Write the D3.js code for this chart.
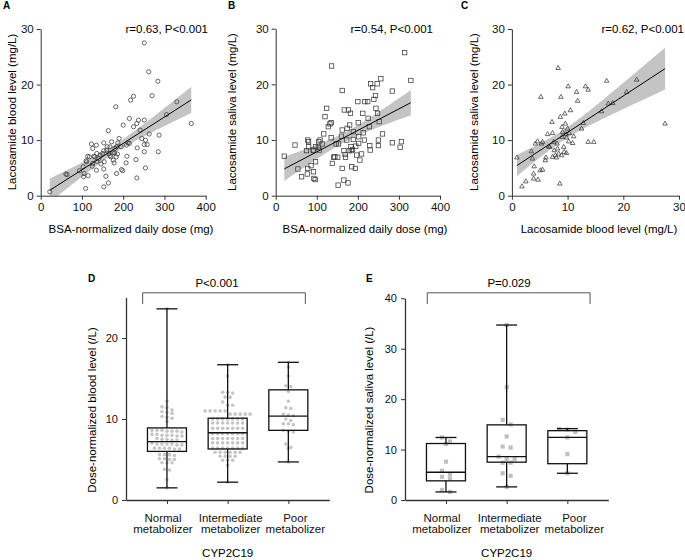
<!DOCTYPE html>
<html>
<head>
<meta charset="utf-8">
<script src="https://cdn.jsdelivr.net/npm/d3@7"></script>
<style>
  body { margin: 0; background: #fff; }
  svg { font-family: Arial, "Liberation Sans", sans-serif; }
  .axis path, .axis line { stroke: #333; }
  .axis text { fill: #111; }
</style>
</head>
<body>
<div id="chart"></div>
<script>
// ---------- data ----------
// A: BSA-normalized dose (mg) vs blood level (mg/L)
var aDose  = [22,61,64,94,103,105,104,115,109,111,114,123,126,129,126,125,135,136,136,135,141,144,146,150,153,153,154,153,153,158,164,161,164,168,168,172,175,176,178,182,180,184,187,186,183,184,195,196,199,200,207,209,212,215,218,225,225,233,237,234,233,231,241,245,251,251,254,251,258,251,254,262,263,270,284,285,287,305,330,365,110,118,131,160,165,170,179,190,208,215];
var aBlood = [0.7,3.9,3.8,4.5,5.2,4.0,3.4,3.6,1.3,6.1,7.1,9.3,8.5,7.1,5.8,5.3,9.1,7.6,6.2,4.6,6.7,7.3,5.7,7.6,9.5,8.1,6.1,4.8,1.6,3.5,2.3,8.8,11.7,7.2,8.8,9.7,7.7,6.4,5.9,16.0,8.5,8.8,9.5,7.5,7.0,4.0,8.8,4.7,4.5,12.7,5.9,7.1,9.5,13.9,17.2,17.9,12.4,13.0,13.6,8.6,3.2,6.5,11.8,10.3,27.5,13.6,10.0,9.2,9.2,7.9,5.0,22.3,11.1,18.0,20.6,7.9,10.9,14.6,16.9,13.0,6.3,7.0,7.0,8.2,7.6,7.0,7.7,10.3,9.1,9.4];

// B: BSA-normalized dose (mg) vs saliva level (mg/L)
var bDose   = [21,47,54,63,75,78,80,80,77,78,93,92,86,91,97,97,96,92,104,105,106,108,113,117,120,124,128,132,135,136,135,138,141,144,147,151,152,153,160,162,162,162,166,166,167,169,170,173,174,176,177,179,180,182,183,184,185,187,189,189,194,195,197,200,201,202,202,205,209,212,213,216,217,224,225,228,229,230,231,236,239,243,244,247,248,250,250,252,256,260,284,284,303,306,314,329];
var bSaliva = [7.1,9.1,4.8,3.4,8.1,10.0,9.7,8.8,3.9,4.9,3.1,4.3,5.4,8.2,8.8,6.1,2.9,8.1,8.7,9.7,8.2,10.0,9.3,11.1,14.2,15.7,12.4,12.9,13.1,23.3,10.4,5.8,6.9,7.0,9.3,6.9,1.9,9.3,10.7,11.8,4.9,18.9,8.1,2.8,15.4,7.4,6.9,10.0,12.1,2.3,15.4,8.1,12.7,14.8,8.8,8.1,5.2,8.3,10.1,11.5,4.9,8.9,7.3,16.9,13.1,10.6,9.4,6.4,7.5,14.8,11.3,10.0,16.9,16.9,13.9,12.4,9.0,8.2,20.1,19.4,17.3,18.0,15.7,20.1,14.8,10.0,9.0,13.3,21.0,11.1,18.8,9.5,8.7,9.7,25.7,20.7];

// C: blood level vs saliva level (mg/L)
var cBlood  = [0.9,1.8,2.5,3.5,3.7,3.9,4.0,3.9,4.2,4.6,4.7,5.1,5.2,5.5,5.3,5.5,6.0,6.1,6.4,6.6,6.8,7.2,7.3,7.5,7.3,7.6,7.8,8.0,8.1,8.2,8.3,8.4,8.6,8.7,8.8,8.9,9.0,9.0,9.1,9.3,9.4,9.5,9.6,9.7,9.8,9.8,10.0,10.1,10.2,10.3,10.5,10.9,11.1,11.6,11.8,12.5,12.8,13.2,13.7,13.7,14.7,16.1,17.0,17.3,18.1,20.6,22.4,27.5];
var cSaliva = [6.9,1.7,2.6,8.0,6.7,4.0,5.3,3.1,9.4,9.8,2.9,4.6,17.8,4.7,9.4,9.7,6.4,6.9,11.1,8.9,8.8,13.3,11.3,9.7,7.0,8.2,7.3,6.9,9.4,8.5,23.0,7.6,2.2,14.2,17.8,7.3,12.4,10.6,11.5,8.8,7.9,14.8,13.0,11.1,7.7,10.5,12.1,19.7,9.8,11.3,15.4,9.5,10.7,18.7,17.1,12.1,13.1,19.7,19.1,9.7,9.7,15.2,20.7,16.6,16.7,18.7,20.9,13.0];

var statsText = ["r=0.63, P<0.001", "r=0.54, P<0.001", "r=0.62, P<0.001"];
var tCrit = 1.99;

// D / E: CYP2C19 groups
var groups = ["Normal metabolizer", "Intermediate metabolizer", "Poor metabolizer"];

var dNormal = [23.6,12.2,11.5,11.4,11.1,10.9,10.8,10.7,10.3,10.2,10.1,9.7,8.6,8.6,8.5,8.5,8.4,8.5,8.6,8.1,8.0,8.0,7.9,8.0,8.1,7.9,7.6,7.4,7.5,7.5,7.4,6.9,6.9,7.0,6.8,6.9,6.9,6.8,6.4,6.4,6.3,6.4,6.4,6.3,5.6,5.5,5.6,5.6,5.1,5.0,5.1,5.0,4.6,4.6,4.6,3.8,3.7,2.5,1.5];
var dInter  = [16.7,15.3,13.3,13.2,13.3,12.7,12.7,12.1,11.7,11.7,11.0,11.0,11.0,11.0,11.0,10.6,10.6,10.6,10.6,10.6,10.0,10.0,10.0,10.0,10.0,10.0,10.0,9.5,9.5,9.5,9.5,9.5,9.5,9.5,8.85,8.85,8.85,8.85,8.85,8.85,8.85,8.2,8.2,8.2,8.2,8.2,8.2,8.2,7.6,7.6,7.6,7.6,7.6,7.6,7.6,7.05,7.05,7.05,7.05,7.05,7.05,7.05,6.4,6.4,6.4,6.4,6.4,6.4,6.4,5.9,5.9,5.9,5.9,5.9,5.9,5.4,5.4,5.4,5.4,4.9,4.9,4.9,4.3,2.2];
var dPoor   = [17.0,16.4,15.3,14.1,14.0,13.4,12.2,11.4,11.3,10.6,10.5,10.4,10.0,9.8,9.4,9.3,9.4,8.5,8.4,8.6,6.9,6.4,6.5,4.7];
// box: min, q1, median, q3, max
var dBoxes = [[1.5,6.0,7.2,8.9,23.6],[2.2,6.3,8.3,10.1,16.7],[4.7,8.6,10.35,13.6,17.0]];

var eNormal = [12.4,11.6,11.1,7.6,5.8,5.1,4.6,4.3,2.0,1.6];
var eInter  = [34.7,22.4,15.9,15.0,12.6,10.6,10.4,8.6,8.1,8.1,7.4,7.4,5.3,4.8,2.6];
var ePoor   = [14.1,14.0,13.5,12.4,9.1,5.3];
var eBoxes = [[1.6,3.8,5.5,11.2,12.4],[2.6,7.5,8.6,14.9,34.7],[5.3,7.2,12.4,13.75,14.15]];

var pTexts = ["P<0.001", "P=0.029"];

// ---------- helpers ----------
var W = 685, H = 560;
var svg = d3.select("#chart").append("svg").attr("width", W).attr("height", H);

function fitLine(xs, ys){
  var n = xs.length, mx = d3.mean(xs), my = d3.mean(ys);
  var sxx = d3.sum(xs, function(x){ return (x-mx)*(x-mx); });
  var sxy = d3.sum(xs, function(x,i){ return (x-mx)*(ys[i]-my); });
  var b = sxy/sxx, a = my - b*mx;
  var sse = d3.sum(xs, function(x,i){ var r = ys[i]-a-b*x; return r*r; });
  var s = Math.sqrt(sse/(n-2));
  return {a:a, b:b, s:s, n:n, mx:mx, sxx:sxx};
}

function scatterPanel(cfg){
  var x = d3.scaleLinear().domain(cfg.xDom).range(cfg.xR);
  var y = d3.scaleLinear().domain([0,30]).range(cfg.yR);
  var g = svg.append("g");
  var clipId = "clip" + cfg.letter;
  svg.append("clipPath").attr("id", clipId).append("rect")
    .attr("x", cfg.xR[0]).attr("y", cfg.yR[1])
    .attr("width", cfg.xR[1]-cfg.xR[0]).attr("height", cfg.yR[0]-cfg.yR[1]);

  // regression + 95% CI
  var f = fitLine(cfg.xs, cfg.ys);
  var x0 = d3.min(cfg.xs), x1 = d3.max(cfg.xs);
  var pts = d3.range(0, 61).map(function(i){
    var xv = x0 + (x1-x0)*i/60;
    var yh = f.a + f.b*xv;
    var se = f.s*Math.sqrt(1/f.n + (xv-f.mx)*(xv-f.mx)/f.sxx);
    return [xv, yh - tCrit*se, yh + tCrit*se, yh];
  });
  g.append("path").datum(pts)
    .attr("clip-path", "url(#" + clipId + ")")
    .attr("fill", "#c4c4c4")
    .attr("d", d3.area().x(function(d){ return x(d[0]); })
      .y0(function(d){ return y(d[1]); }).y1(function(d){ return y(d[2]); }));

  // points
  var pg = g.append("g").attr("fill", "none").attr("stroke", "#3a3a3a").attr("stroke-width", 0.75);
  cfg.xs.forEach(function(xv, i){
    var px = x(xv), py = y(cfg.ys[i]);
    if (cfg.shape === "circle") {
      pg.append("circle").attr("cx", px).attr("cy", py).attr("r", 2.1);
    } else if (cfg.shape === "square") {
      pg.append("rect").attr("x", px-2.2).attr("y", py-2.2).attr("width", 4.4).attr("height", 4.4);
    } else {
      pg.append("path").attr("d", "M" + px + "," + (py-2.4) + "L" + (px+2.3) + "," + (py+1.6) + "L" + (px-2.3) + "," + (py+1.6) + "Z");
    }
  });

  g.append("line")
    .attr("x1", x(x0)).attr("y1", y(f.a+f.b*x0))
    .attr("x2", x(x1)).attr("y2", y(f.a+f.b*x1))
    .attr("stroke", "#000").attr("stroke-width", 1);

  // axes
  g.append("g").attr("class", "axis").attr("transform", "translate(0," + cfg.yR[0] + ")")
    .call(d3.axisBottom(x).tickValues(cfg.xTicks).tickSize(4).tickPadding(3).tickSizeOuter(0))
    .selectAll("text").style("font-size", "11.5px");
  g.append("g").attr("class", "axis").attr("transform", "translate(" + cfg.xR[0] + ",0)")
    .call(d3.axisLeft(y).tickValues([0,10,20,30]).tickSize(4).tickPadding(3).tickSizeOuter(0))
    .selectAll("text").style("font-size", "11.5px");

  g.append("text").attr("x", cfg.xTitle[0]).attr("y", cfg.xTitle[1])
    .attr("text-anchor", "middle").style("font-size", "11.5px").text(cfg.xLabel);
  g.append("text").attr("transform", "translate(" + cfg.yTitle[0] + "," + cfg.yTitle[1] + ") rotate(-90)")
    .attr("text-anchor", "middle").style("font-size", "11.5px").text(cfg.yLabel);
  g.append("text").attr("x", cfg.stat[0]).attr("y", cfg.stat[1])
    .attr("text-anchor", "end").style("font-size", "11.5px").text(cfg.statText);
  g.append("text").attr("x", cfg.lab[0]).attr("y", cfg.lab[1])
    .style("font-size", "10px").style("font-weight", "bold").text(cfg.letter);
}

scatterPanel({letter:"A", xs:aDose, ys:aBlood, shape:"circle",
  xDom:[0,400], xTicks:[0,100,200,300,400], xR:[40.7,205.7], yR:[195.7,29],
  xLabel:"BSA-normalized daily dose (mg)", yLabel:"Lacosamide blood level (mg/L)",
  xTitle:[131,233], yTitle:[16,112], stat:[208,33], statText:statsText[0], lab:[3,9]});
scatterPanel({letter:"B", xs:bDose, ys:bSaliva, shape:"square",
  xDom:[0,400], xTicks:[0,100,200,300,400], xR:[275.7,440], yR:[195.7,28.7],
  xLabel:"BSA-normalized daily dose (mg)", yLabel:"Lacosamide saliva level (mg/L)",
  xTitle:[365,233], yTitle:[236,112], stat:[433,33], statText:statsText[1], lab:[228,9]});
scatterPanel({letter:"C", xs:cBlood, ys:cSaliva, shape:"triangle",
  xDom:[0,30], xTicks:[0,10,20,30], xR:[511.9,679], yR:[195.7,29],
  xLabel:"Lacosamide blood level (mg/L)", yLabel:"Lacosamide saliva level (mg/L)",
  xTitle:[599,233], yTitle:[478,112], stat:[684,33], statText:statsText[2], lab:[461,9]});

// Prism-like binned dot layout
function swarm(vals, y, step, binH){
  var sorted = vals.slice().sort(function(a,b){ return b-a; });
  var bins = [], cur = null;
  sorted.forEach(function(v){
    var py = y(v);
    if (!cur || Math.abs(py - cur.y0) >= binH) { cur = {y0: py, items: []}; bins.push(cur); }
    cur.items.push(v);
  });
  var out = [];
  bins.forEach(function(b){
    b.items.forEach(function(v, i){ out.push({v: v, dx: (i - (b.items.length-1)/2)*step}); });
  });
  return out;
}

function boxPanel(cfg){
  var x = d3.scalePoint().domain(groups).range(cfg.xR).padding(0.675);
  var y = d3.scaleLinear().domain(cfg.yDom).range([500, cfg.yTop]);
  var g = svg.append("g");

  // dots
  cfg.sets.forEach(function(vals, gi){
    var cx = x(groups[gi]);
    swarm(vals, y, cfg.step, cfg.binH).forEach(function(d){
      if (cfg.shape === "circle") {
        g.append("circle").attr("cx", cx + d.dx).attr("cy", y(d.v)).attr("r", 1.8).attr("fill", "#c6c6c6");
      } else {
        g.append("rect").attr("x", cx + d.dx - 2.1).attr("y", y(d.v) - 2.1)
          .attr("width", 4.2).attr("height", 4.2).attr("fill", "#c0c0c0");
      }
    });
  });

  // boxes
  var bw = 39, cw = 21;
  cfg.boxes.forEach(function(b, gi){
    var cx = x(groups[gi]);
    var bg = g.append("g").attr("stroke", "#111").attr("stroke-width", 1.3).attr("fill", "none");
    bg.append("line").attr("x1", cx).attr("x2", cx).attr("y1", y(b[0])).attr("y2", y(b[1]));
    bg.append("line").attr("x1", cx).attr("x2", cx).attr("y1", y(b[3])).attr("y2", y(b[4]));
    bg.append("line").attr("x1", cx-cw/2).attr("x2", cx+cw/2).attr("y1", y(b[0])).attr("y2", y(b[0]));
    bg.append("line").attr("x1", cx-cw/2).attr("x2", cx+cw/2).attr("y1", y(b[4])).attr("y2", y(b[4]));
    bg.append("rect").attr("x", cx-bw/2).attr("y", y(b[3])).attr("width", bw).attr("height", y(b[1]) - y(b[3]));
    bg.append("line").attr("x1", cx-bw/2).attr("x2", cx+bw/2).attr("y1", y(b[2])).attr("y2", y(b[2]));
  });

  // axes
  var labelShift = [-4.5, 2.5, 6.5];
  var xa = g.append("g").attr("class", "axis").attr("transform", "translate(0,500)")
    .call(d3.axisBottom(x).tickSize(4).tickSizeOuter(0));
  xa.select(".domain").attr("stroke-width", 1.3);
  xa.selectAll(".tick text").each(function(d, i){
    var t = d3.select(this), parts = d.split(" ");
    t.text(null).style("font-size", "11.5px").attr("y", 21.7).attr("dy", null);
    t.append("tspan").attr("x", labelShift[i]).text(parts[0]);
    t.append("tspan").attr("x", labelShift[i]).attr("dy", 11.5).text(parts[1]);
  });
  var ya = g.append("g").attr("class", "axis").attr("transform", "translate(" + cfg.xR[0] + ",0)")
    .call(d3.axisLeft(y).tickValues(cfg.yTicks).tickSize(4).tickPadding(4).tickSizeOuter(0));
  ya.select(".domain").attr("stroke-width", 1.3);
  ya.selectAll("text").style("font-size", "11px");

  g.append("text").attr("transform", "translate(" + cfg.yTitle[0] + ",410) rotate(-90)")
    .attr("text-anchor", "middle").style("font-size", "11.5px").text(cfg.yLabel);
  g.append("text").attr("x", x(groups[1])).attr("y", 557)
    .attr("text-anchor", "middle").style("font-size", "11.5px").text("CYP2C19");

  // significance bracket
  var bl = x(groups[0]) - cfg.brk[0], br = x(groups[2]) + cfg.brk[1];
  g.append("path").attr("d", "M" + bl + "," + 304 + "V" + 292.8 + "H" + br + "V" + 304)
    .attr("fill", "none").attr("stroke", "#555").attr("stroke-width", 1);
  g.append("text").attr("x", cfg.pX).attr("y", 286.5).attr("text-anchor", "middle")
    .style("font-size", "11.5px").text(cfg.pText);
  g.append("text").attr("x", cfg.lab[0]).attr("y", 282)
    .style("font-size", "10px").style("font-weight", "bold").text(cfg.letter);
}

boxPanel({letter:"D", xR:[126,329.3], yDom:[0,25], yTop:297.5, yTicks:[0,10,20],
  sets:[dNormal,dInter,dPoor], boxes:dBoxes, shape:"circle", step:5, binH:4,
  yLabel:"Dose-normalized blood level (/L)", yTitle:[96], brk:[24.3,17],
  pText:pTexts[0], pX:217, lab:[88]});
boxPanel({letter:"E", xR:[405,608.3], yDom:[0,40], yTop:298.3, yTicks:[0,10,20,30,40],
  sets:[eNormal,eInter,ePoor], boxes:eBoxes, shape:"square", step:8, binH:5,
  yLabel:"Dose-normalized saliva level (/L)", yTitle:[372.5], brk:[18.7,22.7],
  pText:pTexts[1], pX:509, lab:[366]});
</script>
</body>
</html>
